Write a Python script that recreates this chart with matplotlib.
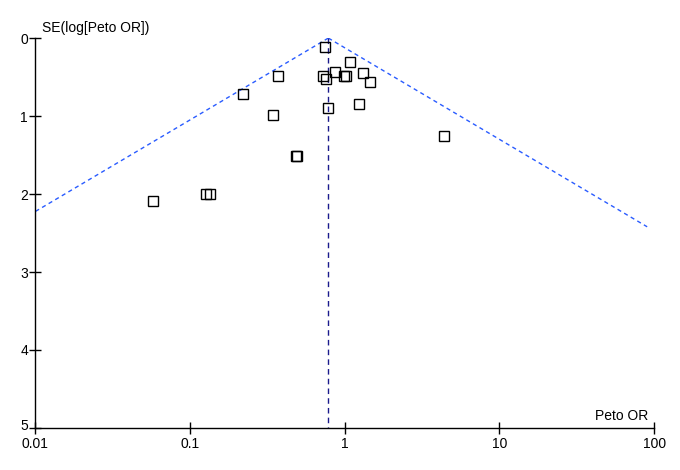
import numpy as np
import matplotlib
matplotlib.use("Agg")
import matplotlib.pyplot as plt
from matplotlib.transforms import ScaledTranslation

plt.rcParams['font.family'] = ['Liberation Sans', 'DejaVu Sans']

peto_or = [0.745, 1.09, 0.374, 0.726, 0.764, 0.869, 0.984, 1.02, 1.31, 1.47,
           0.222, 0.787, 1.23, 0.347, 4.42, 0.484, 0.492, 0.128, 0.135, 0.058]
se = [0.12, 0.31, 0.48, 0.49, 0.53, 0.44, 0.49, 0.48, 0.45, 0.56,
      0.72, 0.90, 0.84, 0.99, 1.25, 1.51, 1.51, 2.00, 2.00, 2.09]
pooled_or = 0.785
funnel_se_max = 2.42
x_ticks = [0.01, 0.1, 1, 10, 100]
x_tick_labels = ["0.01", "0.1", "1", "10", "100"]
y_ticks = [0, 1, 2, 3, 4, 5]

fig = plt.figure(figsize=(6.8, 4.7), dpi=100)
ax = fig.add_axes([0.0515, 0.0894, 0.9105, 0.8296])

# funnel lines
s = np.array([0.0, funnel_se_max])
lp = np.log(pooled_or)
ax.plot(np.exp(lp - 1.96 * s), s, color='#2a5cff', lw=1.0, ls=(0, (3, 2.5)))
ax.plot(np.exp(lp + 1.96 * s), s, color='#2a5cff', lw=1.0, ls=(0, (3, 2.5)))
ax.plot([pooled_or, pooled_or], [0, 5], color='#1a1a8c', lw=1.0, ls=(0, (4, 3)))

ax.plot(peto_or, se, ls='none', marker='s', ms=7, mfc='none', mec='black', mew=1.0)

ax.set_xscale('log')
ax.set_xlim(0.01, 100)
ax.set_ylim(5, 0)
ax.set_xticks(x_ticks)
ax.set_xticklabels(x_tick_labels)
ax.minorticks_off()
ax.set_yticks(y_ticks)
for sp in ['top', 'right']:
    ax.spines[sp].set_visible(False)
for sp in ['left', 'bottom']:
    ax.spines[sp].set_linewidth(1.0)
ax.tick_params(axis='x', direction='inout', length=9, width=1, labelsize=10, pad=2)
ax.tick_params(axis='y', direction='inout', length=8, width=1, labelsize=10, pad=1)

# nudge the bottom y tick label up slightly so it does not touch "0.01"
lab5 = ax.get_yticklabels()[-1]
lab5.set_transform(lab5.get_transform() + ScaledTranslation(0, 2.5 / 72, fig.dpi_scale_trans))

ax.text(0.011, 1.007, 'SE(log[Peto OR])', transform=ax.transAxes, fontsize=10,
        ha='left', va='bottom')
ax.text(0.99, 0.012, 'Peto OR', transform=ax.transAxes, fontsize=10,
        ha='right', va='bottom')

fig.savefig('out.png', dpi=100)
